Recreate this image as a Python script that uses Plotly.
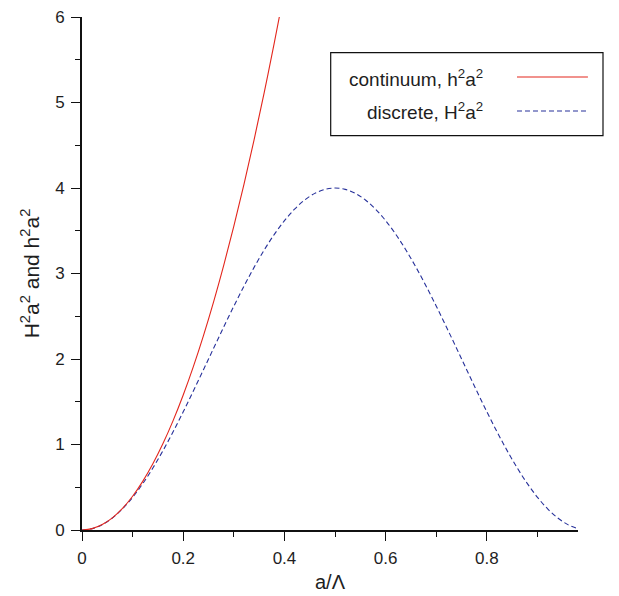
import plotly.graph_objects as go

# continuum h^2 a^2 values
x_cont = [0, 0.02, 0.04, 0.06, 0.08, 0.10, 0.12, 0.14, 0.16, 0.18, 0.20,
          0.22, 0.24, 0.26, 0.28, 0.30, 0.32, 0.34, 0.36, 0.38, 0.39]
y_cont = [0, 0.0158, 0.0632, 0.1421, 0.2527, 0.3948, 0.5685, 0.7738, 1.0106,
          1.2791, 1.5791, 1.9107, 2.2739, 2.6687, 3.0951, 3.5530, 4.0426,
          4.5637, 5.1164, 5.7007, 6.0046]

# discrete H^2 a^2 values
x_disc = [0, 0.02, 0.04, 0.06, 0.08, 0.10, 0.12, 0.14, 0.16, 0.18, 0.20,
          0.22, 0.24, 0.26, 0.28, 0.30, 0.32, 0.34, 0.36, 0.38, 0.40,
          0.42, 0.44, 0.46, 0.48, 0.50, 0.52, 0.54, 0.56, 0.58, 0.60,
          0.62, 0.64, 0.66, 0.68, 0.70, 0.72, 0.74, 0.76, 0.78, 0.80,
          0.82, 0.84, 0.86, 0.88, 0.90, 0.92, 0.94, 0.96, 0.98]
y_disc = [0, 0.0158, 0.0628, 0.1404, 0.2474, 0.3820, 0.5420, 0.7252, 0.9283,
          1.1485, 1.3820, 1.6252, 1.8744, 2.1256, 2.3748, 2.6180, 2.8516,
          3.0717, 3.2748, 3.4580, 3.6180, 3.7526, 3.8596, 3.9372, 3.9842,
          4.0000, 3.9842, 3.9372, 3.8596, 3.7526, 3.6180, 3.4580, 3.2748,
          3.0717, 2.8516, 2.6180, 2.3748, 2.1256, 1.8744, 1.6252, 1.3820,
          1.1485, 0.9283, 0.7252, 0.5420, 0.3820, 0.2474, 0.1404, 0.0628,
          0.0158]

x_ticks = [0, 0.2, 0.4, 0.6, 0.8]
x_ticktext = ["0", "0.2", "0.4", "0.6", "0.8"]
y_ticks = [0, 1, 2, 3, 4, 5, 6]
legend_labels = ["continuum, h<sup>2</sup>a<sup>2</sup>",
                 "discrete, H<sup>2</sup>a<sup>2</sup>"]

RED = "#e3261c"
BLUE = "#26309a"
TXT = "#1e1e1e"
FONT = "Liberation Sans, Arial, sans-serif"

fig = go.Figure()
fig.add_trace(go.Scatter(x=x_disc, y=y_disc, mode="lines", line_shape="spline",
                         line=dict(color=BLUE, width=1.1, dash="5px,3px"),
                         showlegend=False))
fig.add_trace(go.Scatter(x=x_cont, y=y_cont, mode="lines", line_shape="spline",
                         line=dict(color=RED, width=1.1), showlegend=False))

axis_common = dict(showgrid=False, zeroline=False, showline=True,
                   linecolor="#111", linewidth=1.6, ticks="outside",
                   tickcolor="#111", tickwidth=1.3, ticklen=9,
                   automargin=False,
                   tickfont=dict(size=17, color=TXT, family=FONT))

fig.update_xaxes(range=[0, 0.98], tickvals=x_ticks, ticktext=x_ticktext,
                 ticklabelstandoff=3,
                 minor=dict(ticks="outside", dtick=0.1, tick0=0, ticklen=5,
                            tickcolor="#111", tickwidth=1.2),
                 title=dict(text="a/Λ", font=dict(size=20, color=TXT, family=FONT),
                            standoff=8),
                 **axis_common)
fig.update_yaxes(range=[0, 6], tickvals=y_ticks, ticklabelstandoff=3,
                 minor=dict(ticks="outside", dtick=0.5, tick0=0, ticklen=5,
                            tickcolor="#111", tickwidth=1.2),
                 title=dict(text="H<sup>2</sup>a<sup>2</sup> and h<sup>2</sup>a<sup>2</sup>",
                            font=dict(size=21, color=TXT, family=FONT), standoff=10),
                 **axis_common)

# manual legend (text left, line sample right)
fig.add_shape(type="rect", xref="paper", yref="paper", x0=0.5014, x1=1.0504,
              y0=0.7686, y1=0.9304, line=dict(color="#111", width=1.2),
              fillcolor="white", layer="above")
fig.add_shape(type="line", xref="paper", yref="paper", x0=0.877, x1=1.020,
              y0=0.883, y1=0.883, line=dict(color=RED, width=1.2))
fig.add_shape(type="line", xref="paper", yref="paper", x0=0.877, x1=1.020,
              y0=0.8168, y1=0.8168, line=dict(color=BLUE, width=1.1, dash="5px,3px"))
for lab, yy in zip(legend_labels, [0.882, 0.816]):
    fig.add_annotation(text=lab, xref="paper", yref="paper", x=0.8125, y=yy,
                       xanchor="right", yanchor="middle", showarrow=False,
                       font=dict(size=19, color=TXT, family=FONT))

fig.update_layout(width=619, height=596, margin=dict(l=82, r=41, t=17, b=66),
                  plot_bgcolor="white", paper_bgcolor="white",
                  font=dict(family=FONT))
fig.write_html("out.html")
